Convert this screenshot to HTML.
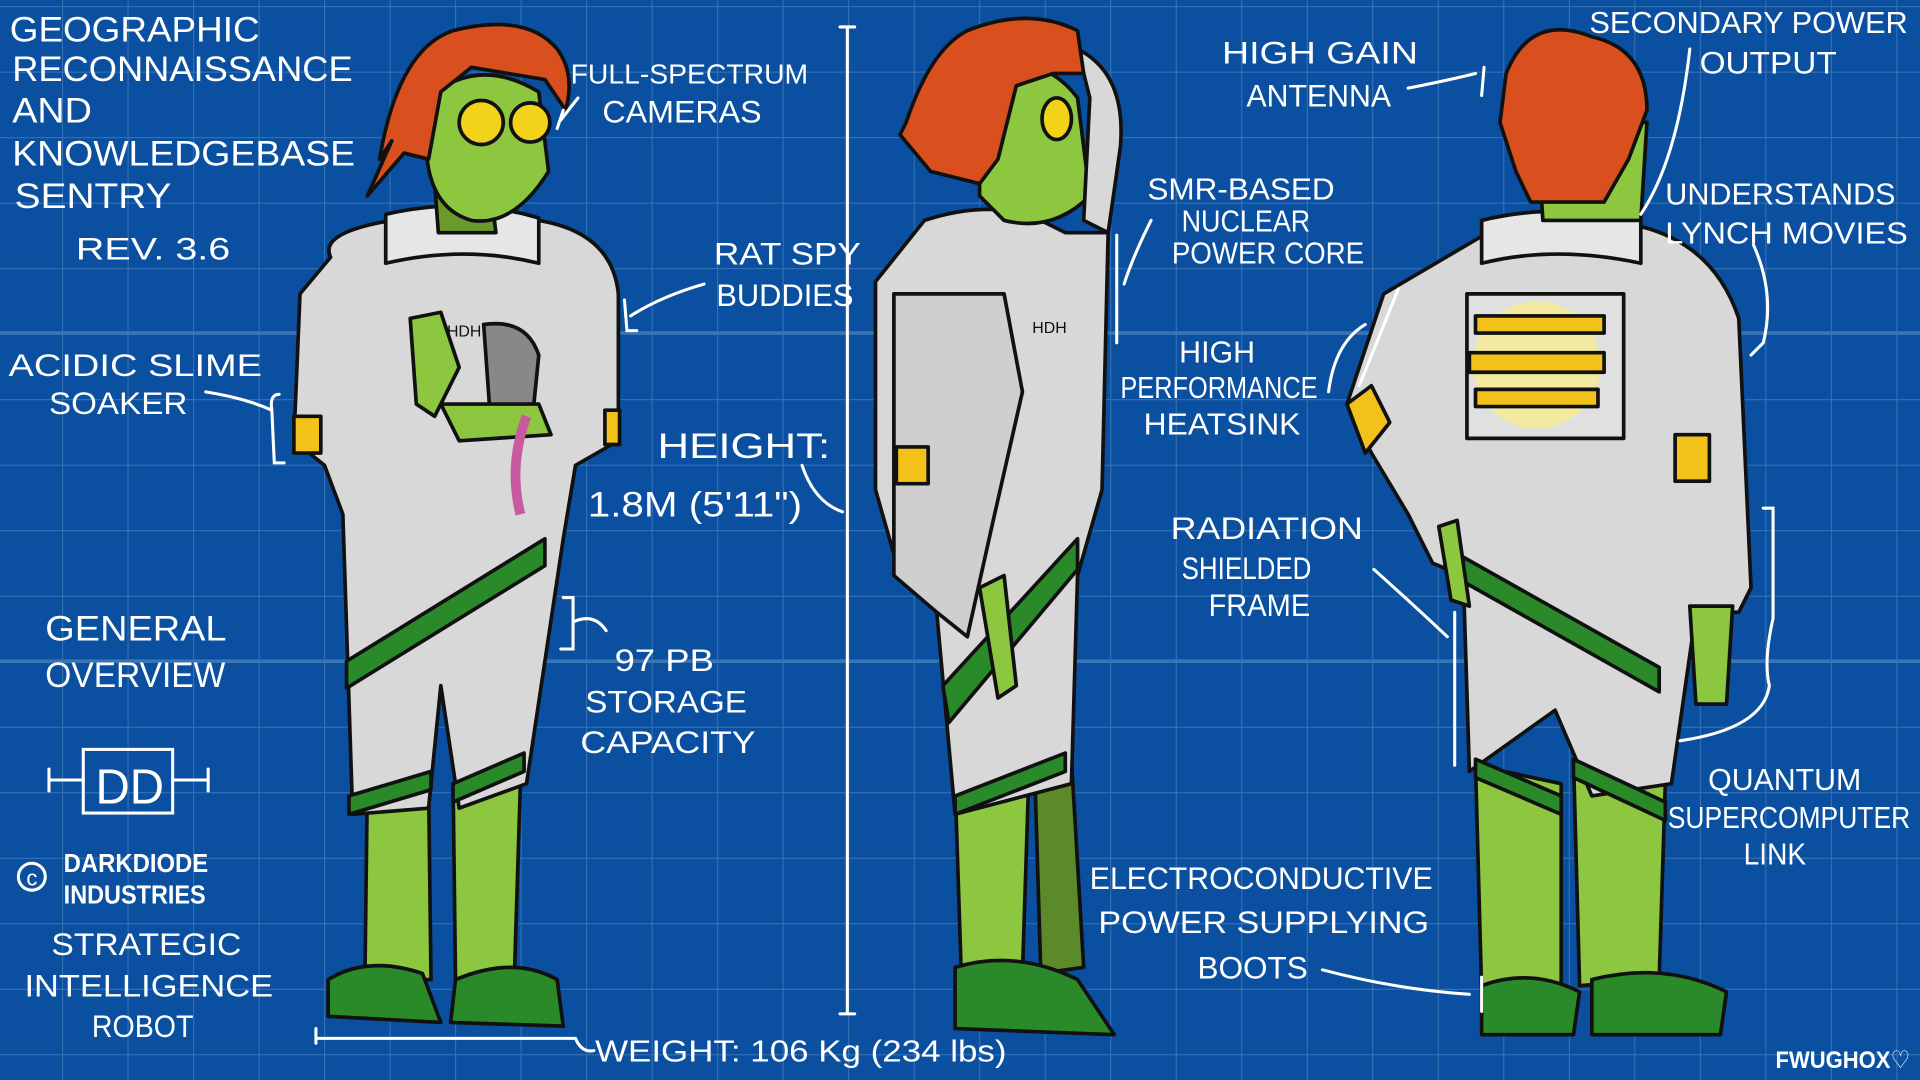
<!DOCTYPE html>
<html><head><meta charset="utf-8"><style>
html,body{margin:0;padding:0;background:#0b50a0;}
svg{display:block}
text{font-family:"Liberation Sans","DejaVu Sans",sans-serif;fill:#fff;}
</style></head><body>
<svg width="1920" height="1080" viewBox="0 0 1568 882" preserveAspectRatio="none" xmlns="http://www.w3.org/2000/svg">
<defs>
<pattern id="g" x="-2" y="5" width="53.5" height="53.5" patternUnits="userSpaceOnUse">
<path d="M53.5 0V53.5M0 0H53.5" stroke="#3a74b5" stroke-width="1.6" fill="none"/>
</pattern>
</defs>
<rect width="1568" height="882" fill="#0b50a0"/>
<rect width="1568" height="882" fill="url(#g)"/>
<line x1="0" y1="540" x2="1568" y2="540" stroke="#3a74b5" stroke-width="3"/>
<line x1="0" y1="272" x2="1568" y2="272" stroke="#3a74b5" stroke-width="3"/>

<g stroke="#111" stroke-width="3" stroke-linejoin="round">
<!-- FIGURE 1 -->
<path d="M300 640 L350 640 L352 800 L298 800Z" fill="#8dc63f"/>
<path d="M370 640 L425 640 L420 800 L372 800Z" fill="#8dc63f"/>
<path d="M268 800 Q300 780 345 795 L360 835 L268 830Z" fill="#2a8a2a"/>
<path d="M372 800 Q420 780 455 800 L460 838 L368 835Z" fill="#2a8a2a"/>
<path d="M270 210 Q260 190 320 180 L440 180 Q500 190 505 240 L505 360 L470 380 L460 440 L430 640 L375 660 L360 560 L350 660 L288 665 L280 420 L265 380 L240 360 L245 240Z" fill="#d8d8d8"/>
<path d="M283 540 L445 440 L445 462 L283 562Z" fill="#2a8a2a"/>
<path d="M285 650 L352 630 L352 645 L285 665Z" fill="#2a8a2a"/>
<path d="M370 640 L428 615 L428 630 L370 655Z" fill="#2a8a2a"/>
<path d="M315 175 Q380 160 440 178 L440 215 Q380 200 315 215Z" fill="#e6e6e6"/>
<path d="M355 150 L400 150 L405 190 L358 190Z" fill="#6a9a2a"/>
<path d="M350 80 Q390 45 440 75 L448 140 Q420 185 385 180 Q350 170 348 120Z" fill="#8dc63f"/>
<path d="M310 130 Q325 40 370 25 Q430 10 455 40 Q470 60 462 90 L445 65 L385 55 L360 75 L350 130 L330 125 L300 160 L320 115Z" fill="#d9501e"/>
<circle cx="393" cy="100" r="18" fill="#f3d21a"/>
<circle cx="433" cy="100" r="16" fill="#f3d21a"/>
<rect x="240" y="340" width="22" height="30" fill="#f3c21a"/>
<rect x="494" y="335" width="12" height="28" fill="#f3c21a"/>
<path d="M335 260 L360 255 L375 300 L355 340 L340 330Z" fill="#8dc63f"/>
<path d="M395 265 Q430 260 440 290 L435 340 L400 335Z" fill="#888"/>
<path d="M360 330 L440 330 L450 355 L375 360Z" fill="#8dc63f"/>
<path d="M430 340 Q415 380 425 420" stroke="#c85aa0" stroke-width="8" fill="none"/>
<!-- FIGURE 2 -->
<path d="M780 640 L840 640 L835 795 L785 795Z" fill="#8dc63f"/>
<path d="M845 630 L875 620 L885 790 L850 795Z" fill="#5c8a2a"/>
<path d="M780 790 Q830 775 880 800 L910 845 L780 840Z" fill="#2a8a2a"/>
<path d="M755 180 Q800 165 840 175 L870 190 L905 190 L900 400 L880 470 L875 640 L780 665 L765 500 L735 470 L715 400 L715 230Z" fill="#d8d8d8"/>
<path d="M770 560 L880 440 L880 465 L775 590Z" fill="#2a8a2a"/>
<path d="M780 650 L870 615 L870 630 L780 665Z" fill="#2a8a2a"/>
<path d="M730 240 L820 240 L835 320 L810 430 L790 520 L765 500 L730 470Z" fill="#cfcfcf"/>
<path d="M800 480 L820 470 L830 560 L815 570Z" fill="#8dc63f"/>
<rect x="732" y="365" width="26" height="30" fill="#f3c21a"/>
<path d="M800 60 Q850 40 880 80 L890 160 Q860 190 820 180 L800 160Z" fill="#8dc63f"/>
<path d="M880 40 Q920 60 915 120 L905 190 L885 180 L890 80Z" fill="#d8d8d8"/>
<path d="M740 100 Q760 40 790 25 Q840 5 880 25 L885 60 L860 60 L830 70 L815 130 L800 150 L760 140 L735 110Z" fill="#d9501e"/>
<ellipse cx="863" cy="97" rx="12" ry="17" fill="#f3d21a"/>
<!-- FIGURE 3 -->
<path d="M1205 625 L1275 640 L1275 810 L1210 810Z" fill="#8dc63f"/>
<path d="M1285 620 L1360 640 L1355 800 L1290 805Z" fill="#8dc63f"/>
<path d="M1210 805 Q1250 790 1290 810 L1285 845 L1210 845Z" fill="#2a8a2a"/>
<path d="M1300 800 Q1360 785 1410 810 L1405 845 L1300 845Z" fill="#2a8a2a"/>
<path d="M1215 190 Q1270 170 1340 185 Q1400 200 1420 260 L1430 480 L1420 500 L1385 500 L1365 640 L1300 650 L1270 580 L1200 630 L1195 470 L1170 460 L1150 420 L1120 370 L1100 330 L1130 240 Z" fill="#d8d8d8"/>
<path d="M1195 455 L1355 545 L1355 565 L1195 475Z" fill="#2a8a2a"/>
<path d="M1205 620 L1275 650 L1275 665 L1205 635Z" fill="#2a8a2a"/>
<path d="M1285 620 L1360 655 L1360 670 L1285 635Z" fill="#2a8a2a"/>
<path d="M1210 180 Q1270 165 1340 180 L1340 215 Q1270 200 1210 215Z" fill="#e6e6e6"/>
<path d="M1255 100 L1345 100 L1340 180 L1260 180Z" fill="#8dc63f"/>
<path d="M1230 60 Q1250 10 1300 30 Q1345 40 1345 90 L1330 130 L1310 165 L1250 165 L1238 140 L1225 100Z" fill="#d9501e"/>
<rect x="1198" y="240" width="128" height="118" fill="#e0e0e0"/>
<circle cx="1255" cy="298" r="52" fill="#f3e9a0" stroke="none"/>
<g fill="#f3c21a"><rect x="1205" y="258" width="105" height="14"/><rect x="1200" y="288" width="110" height="16"/><rect x="1205" y="318" width="100" height="14"/></g>
<path d="M1100 330 L1120 315 L1135 345 L1115 370Z" fill="#f3c21a"/>
<rect x="1368" y="355" width="28" height="38" fill="#f3c21a"/>
<path d="M1175 430 L1190 425 L1200 495 L1185 490Z" fill="#8dc63f"/>
<path d="M1380 495 L1415 495 L1410 575 L1385 575Z" fill="#8dc63f"/>
</g>

<g stroke="#fff" stroke-width="2.5" fill="none" stroke-linecap="round">
<path d="M692 22 V828 M686 22 H698 M686 828 H698"/>
<path d="M258 840 V852 M258 848 H470 Q475 860 485 858"/>
<path d="M168 320 Q200 325 222 335 M228 322 Q220 322 222 335 L224 378 H232"/>
<path d="M458 98 L472 80 M455 105 L460 90"/>
<path d="M575 232 Q540 242 515 258 M510 245 L512 270 H520"/>
<path d="M460 488 H468 V530 H458 M468 508 Q485 500 495 515"/>
<path d="M655 380 Q665 410 688 418"/>
<path d="M912 192 L912 280 M940 180 Q925 210 918 232"/>
<path d="M1150 72 Q1185 65 1205 60 M1212 55 L1210 78"/>
<path d="M1380 40 Q1370 130 1340 175"/>
<path d="M1085 320 Q1090 280 1115 265 M1142 236 L1110 315"/>
<path d="M1432 200 Q1450 240 1440 280 L1430 290"/>
<path d="M1122 465 Q1150 490 1182 520 M1188 500 V625"/>
<path d="M1440 415 H1448 V505 Q1440 540 1445 560 Q1440 595 1372 605"/>
<path d="M1080 792 Q1140 808 1200 812 M1210 798 V826"/>
<rect x="68" y="612" width="73" height="52"/>
<path d="M40 637 H68 M141 637 H170 M40 628 V646 M170 628 V646"/>
<circle cx="26" cy="716" r="11"/>
</g>

<g font-size="26" lengthAdjust="spacingAndGlyphs">
<text x="26" y="723" font-size="18" text-anchor="middle">c</text>
<text x="8" y="34" font-size="29" textLength="204" lengthAdjust="spacingAndGlyphs">GEOGRAPHIC</text>
<text x="10" y="66" font-size="29" textLength="278" lengthAdjust="spacingAndGlyphs">RECONNAISSANCE</text>
<text x="10" y="100" font-size="29" textLength="65" lengthAdjust="spacingAndGlyphs">AND</text>
<text x="10" y="135" font-size="29" textLength="280" lengthAdjust="spacingAndGlyphs">KNOWLEDGEBASE</text>
<text x="12" y="170" font-size="29" textLength="128" lengthAdjust="spacingAndGlyphs">SENTRY</text>
<text x="62" y="212" textLength="126" lengthAdjust="spacingAndGlyphs">REV. 3.6</text>
<text x="7" y="307" textLength="207" lengthAdjust="spacingAndGlyphs">ACIDIC SLIME</text>
<text x="40" y="338" textLength="113" lengthAdjust="spacingAndGlyphs">SOAKER</text>
<text x="37" y="523" font-size="29" textLength="148" lengthAdjust="spacingAndGlyphs">GENERAL</text>
<text x="37" y="561" font-size="29" textLength="147" lengthAdjust="spacingAndGlyphs">OVERVIEW</text>
<text x="78" y="656" font-size="40" textLength="56" lengthAdjust="spacingAndGlyphs">DD</text>
<text x="52" y="712" font-size="21" font-weight="bold" textLength="118" lengthAdjust="spacingAndGlyphs">DARKDIODE</text>
<text x="52" y="738" font-size="21" font-weight="bold" textLength="116" lengthAdjust="spacingAndGlyphs">INDUSTRIES</text>
<text x="42" y="780" textLength="155" lengthAdjust="spacingAndGlyphs">STRATEGIC</text>
<text x="20" y="814" textLength="203" lengthAdjust="spacingAndGlyphs">INTELLIGENCE</text>
<text x="75" y="847" textLength="83" lengthAdjust="spacingAndGlyphs">ROBOT</text>
<text x="466" y="68" font-size="23" textLength="194" lengthAdjust="spacingAndGlyphs">FULL-SPECTRUM</text>
<text x="492" y="100" textLength="130" lengthAdjust="spacingAndGlyphs">CAMERAS</text>
<text x="583" y="216" textLength="120" lengthAdjust="spacingAndGlyphs">RAT SPY</text>
<text x="585" y="250" textLength="112" lengthAdjust="spacingAndGlyphs">BUDDIES</text>
<text x="537" y="374" font-size="29" textLength="141" lengthAdjust="spacingAndGlyphs">HEIGHT:</text>
<text x="480" y="422" font-size="29" textLength="175" lengthAdjust="spacingAndGlyphs">1.8M (5'11")</text>
<text x="502" y="548" textLength="81" lengthAdjust="spacingAndGlyphs">97 PB</text>
<text x="478" y="582" textLength="132" lengthAdjust="spacingAndGlyphs">STORAGE</text>
<text x="474" y="615" textLength="143" lengthAdjust="spacingAndGlyphs">CAPACITY</text>
<text x="486" y="867" font-size="25" textLength="336" lengthAdjust="spacingAndGlyphs">WEIGHT: 106 Kg (234 lbs)</text>
<text x="937" y="163" font-size="25" textLength="153" lengthAdjust="spacingAndGlyphs">SMR-BASED</text>
<text x="965" y="189" font-size="25" textLength="105" lengthAdjust="spacingAndGlyphs">NUCLEAR</text>
<text x="957" y="215" font-size="25" textLength="157" lengthAdjust="spacingAndGlyphs">POWER CORE</text>
<text x="963" y="296" font-size="25" textLength="62" lengthAdjust="spacingAndGlyphs">HIGH</text>
<text x="915" y="325" font-size="25" textLength="161" lengthAdjust="spacingAndGlyphs">PERFORMANCE</text>
<text x="934" y="355" font-size="25" textLength="128" lengthAdjust="spacingAndGlyphs">HEATSINK</text>
<text x="956" y="440" textLength="157" lengthAdjust="spacingAndGlyphs">RADIATION</text>
<text x="965" y="473" textLength="106" lengthAdjust="spacingAndGlyphs">SHIELDED</text>
<text x="987" y="503" textLength="83" lengthAdjust="spacingAndGlyphs">FRAME</text>
<text x="890" y="726" textLength="280" lengthAdjust="spacingAndGlyphs">ELECTROCONDUCTIVE</text>
<text x="897" y="762" textLength="270" lengthAdjust="spacingAndGlyphs">POWER SUPPLYING</text>
<text x="978" y="799" textLength="90" lengthAdjust="spacingAndGlyphs">BOOTS</text>
<text x="998" y="52" textLength="160" lengthAdjust="spacingAndGlyphs">HIGH GAIN</text>
<text x="1018" y="87" textLength="118" lengthAdjust="spacingAndGlyphs">ANTENNA</text>
<text x="1298" y="27" font-size="25" textLength="260" lengthAdjust="spacingAndGlyphs">SECONDARY POWER</text>
<text x="1388" y="60" textLength="112" lengthAdjust="spacingAndGlyphs">OUTPUT</text>
<text x="1360" y="167" font-size="25" textLength="188" lengthAdjust="spacingAndGlyphs">UNDERSTANDS</text>
<text x="1360" y="199" font-size="25" textLength="198" lengthAdjust="spacingAndGlyphs">LYNCH MOVIES</text>
<text x="1395" y="645" font-size="25" textLength="125" lengthAdjust="spacingAndGlyphs">QUANTUM</text>
<text x="1362" y="676" font-size="25" textLength="198" lengthAdjust="spacingAndGlyphs">SUPERCOMPUTER</text>
<text x="1424" y="706" font-size="25" textLength="51" lengthAdjust="spacingAndGlyphs">LINK</text>
<text x="1450" y="872" font-size="20" font-weight="bold" textLength="110" lengthAdjust="spacingAndGlyphs">FWUGHOX♡</text>
</g>
<g font-size="13"><text x="365" y="275" style="fill:#111">HDH</text><text x="843" y="272" style="fill:#111">HDH</text></g>
</svg>
</body></html>
